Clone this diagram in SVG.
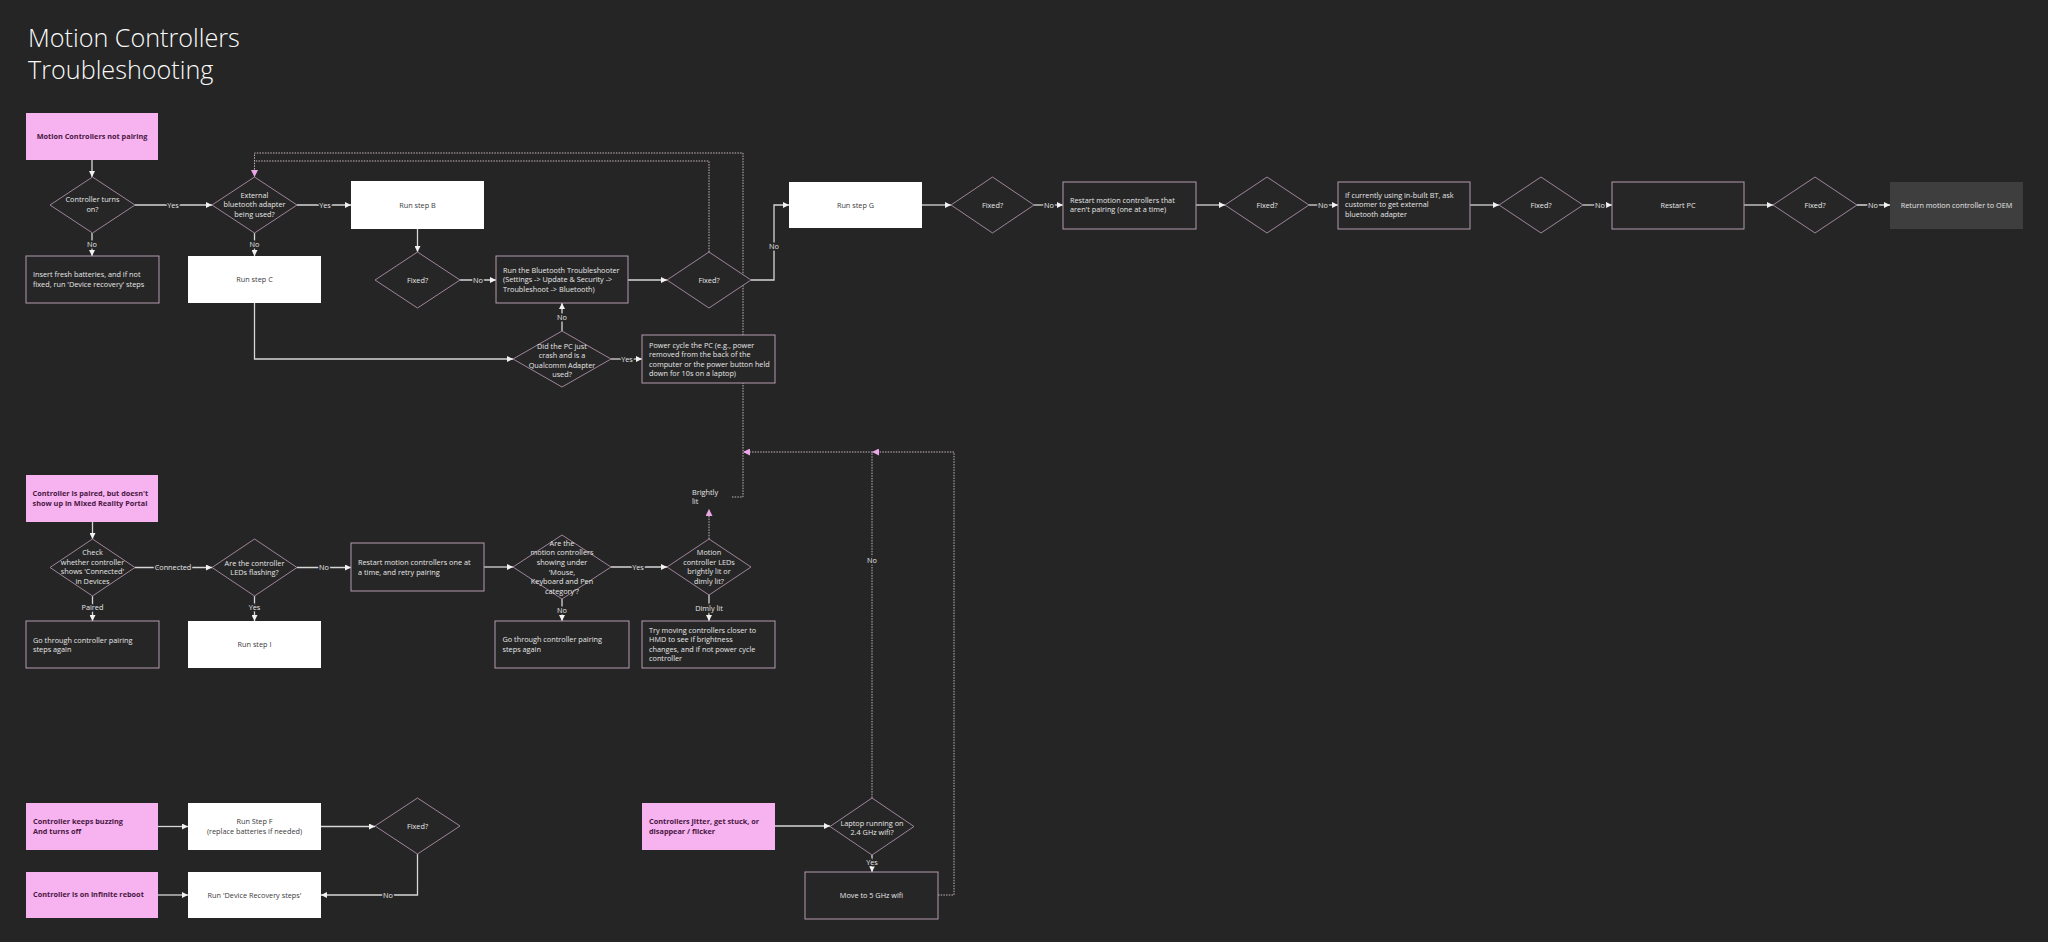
<svg xmlns="http://www.w3.org/2000/svg" width="2048" height="942" viewBox="0 0 2048 942">
<defs>
<style>
.bg{fill:#252525}
.t{font-family:"Segoe UI","Open Sans",sans-serif;font-size:7.3px;fill:#e6e6e6}
.m{text-anchor:middle}
.pk{font-weight:bold;fill:#4a1744}
.dk{fill:#3a3a3a}
.ttl{font-family:"Segoe UI","Open Sans",sans-serif;font-weight:300;font-size:25.2px;fill:#fafafa}
.pink{fill:#f7b3ef}
.wbox{fill:#ffffff}
.box{fill:#262626;stroke:#b49ab0;stroke-width:1}
.dia{fill:#262626;stroke:#9f849b;stroke-width:1}
.gray{fill:#3e3e3e}
.ln{fill:none;stroke:#d6d6d6;stroke-width:1.3;marker-end:url(#aw)}
.dt{fill:none;stroke:#c4b4c0;stroke-width:1;stroke-dasharray:1.5 1.2}
.dta{fill:none;stroke:#c4b4c0;stroke-width:1;stroke-dasharray:1.5 1.2;marker-end:url(#ap)}
.lb{font-family:"Segoe UI","Open Sans",sans-serif;font-size:7.3px;fill:#e6e6e6;text-anchor:middle;stroke:#252525;stroke-width:3;paint-order:stroke}
</style>
<marker id="aw" viewBox="0 0 10 10" refX="10" refY="5" markerWidth="6" markerHeight="6" orient="auto" markerUnits="userSpaceOnUse"><path d="M0,0 L10,5 L0,10 z" fill="#f2f2f2"/></marker>
<marker id="ap" viewBox="0 0 10 10" refX="10" refY="5" markerWidth="7" markerHeight="7" orient="auto" markerUnits="userSpaceOnUse"><path d="M0,0 L10,5 L0,10 z" fill="#eaa6e6"/></marker>
</defs>
<rect class="bg" x="0" y="0" width="2048" height="942"/>

<g id="title">
<text class="ttl" x="28" y="46.5">Motion Controllers</text>
<text class="ttl" x="28" y="78.5">Troubleshooting</text>
</g>

<g id="connectors">
<path class="ln" d="M92,160 V177"/>
<path class="ln" d="M135,205 H212"/>
<path class="ln" d="M297,205 H351"/>
<path class="ln" d="M92,233 V256"/>
<path class="ln" d="M254.5,233 V256"/>
<path class="ln" d="M417.5,229 V252"/>
<path class="ln" d="M460,280 H496"/>
<path class="ln" d="M628,280 H667"/>
<path class="ln" d="M751,280 H774 V205 H789"/>
<path class="ln" d="M254.5,303 V359 H513"/>
<path class="ln" d="M562,331 V303"/>
<path class="ln" d="M611,359 H642"/>
<path class="ln" d="M922,205 H951"/>
<path class="ln" d="M1034,205 H1063"/>
<path class="ln" d="M1196,205 H1225"/>
<path class="ln" d="M1309,205 H1338"/>
<path class="ln" d="M1470,205 H1499"/>
<path class="ln" d="M1583,205 H1612"/>
<path class="ln" d="M1744,205 H1773"/>
<path class="ln" d="M1857,205 H1890"/>

<path class="ln" d="M92.5,522 V539"/>
<path class="ln" d="M135,567.5 H212"/>
<path class="ln" d="M297,567.5 H351"/>
<path class="ln" d="M92.5,596 V621"/>
<path class="ln" d="M254.5,596 V621"/>
<path class="ln" d="M484,567 H513"/>
<path class="ln" d="M611,567 H667"/>
<path class="ln" d="M562,599 V621"/>
<path class="ln" d="M709,595 V621"/>

<path class="ln" d="M158,826.5 H188"/>
<path class="ln" d="M321,826.5 H375"/>
<path class="ln" d="M417.5,854 V895 H321"/>
<path class="ln" d="M158,895 H188"/>
<path class="ln" d="M775,826 H830"/>
<path class="ln" d="M872,855 V872"/>

<path class="dta" d="M709,539 V509"/>
<path class="dta" d="M732,497 H743 V153 H254.5 V177"/>
<path class="dt" d="M709,252 V161 H254.5"/>
<path class="dta" d="M872,798 V452 H743"/>
<path class="dta" d="M938,895 H954 V452 H872"/>

<text class="lb" x="173" y="207.5">Yes</text>
<text class="lb" x="325" y="207.5">Yes</text>
<text class="lb" x="92" y="246.5">No</text>
<text class="lb" x="254.5" y="246.5">No</text>
<text class="lb" x="478" y="282.5">No</text>
<text class="lb" x="774" y="248.5">No</text>
<text class="lb" x="562" y="319.5">No</text>
<text class="lb" x="627" y="361.5">Yes</text>
<text class="lb" x="1049" y="207.5">No</text>
<text class="lb" x="1323" y="207.5">No</text>
<text class="lb" x="1600" y="207.5">No</text>
<text class="lb" x="1873" y="207.5">No</text>
<text class="lb" x="173" y="570">Connected</text>
<text class="lb" x="324" y="570">No</text>
<text class="lb" x="92.5" y="610">Paired</text>
<text class="lb" x="254.5" y="610">Yes</text>
<text class="lb" x="638" y="569.5">Yes</text>
<text class="lb" x="562" y="612.5">No</text>
<text class="lb" x="709" y="610.5">Dimly lit</text>
<text class="lb" x="872" y="563">No</text>
<text class="lb" x="872" y="864.5">Yes</text>
<text class="lb" x="388" y="897.5">No</text>
<text class="t" x="692" y="494.5">Brightly</text>
<text class="t" x="692" y="504">lit</text>
</g>

<g id="n-start1">
<rect class="pink" x="26" y="113" width="132" height="47"/>
<text class="t m pk" x="92" y="139">Motion Controllers not pairing</text>
</g>
<g id="d-turns-on">
<polygon class="dia" points="92.5,177 135,205 92.5,233 50,205"/>
<text class="t m" x="92.5" y="201.5">Controller turns</text>
<text class="t m" x="92.5" y="211.5">on?</text>
</g>
<g id="d-external-bt">
<polygon class="dia" points="254.5,177 297,205 254.5,233 212,205"/>
<text class="t m" x="254.5" y="197.5">External</text>
<text class="t m" x="254.5" y="207">bluetooth adapter</text>
<text class="t m" x="254.5" y="216.5">being used?</text>
</g>
<g id="n-step-b">
<rect class="wbox" x="351" y="181" width="133" height="48"/>
<text class="t m dk" x="417.5" y="207.5">Run step B</text>
</g>
<g id="n-batteries">
<rect class="box" x="26" y="256" width="133" height="47"/>
<text class="t" x="33" y="277">Insert fresh batteries, and if not</text>
<text class="t" x="33" y="287">fixed, run 'Device recovery' steps</text>
</g>
<g id="n-step-c">
<rect class="wbox" x="188" y="256" width="133" height="47"/>
<text class="t m dk" x="254.5" y="282">Run step C</text>
</g>
<g id="d-fixed-b">
<polygon class="dia" points="417.5,252 460,280 417.5,308 375,280"/>
<text class="t m" x="417.5" y="282.5">Fixed?</text>
</g>
<g id="n-bt-troubleshooter">
<rect class="box" x="496" y="256" width="132" height="47"/>
<text class="t" x="503" y="272.5">Run the Bluetooth Troubleshooter</text>
<text class="t" x="503" y="282">(Settings -&gt; Update &amp; Security -&gt;</text>
<text class="t" x="503" y="291.5">Troubleshoot -&gt; Bluetooth)</text>
</g>
<g id="d-fixed-bt">
<polygon class="dia" points="709,252 751,280 709,308 667,280"/>
<text class="t m" x="709" y="282.5">Fixed?</text>
</g>
<g id="d-qualcomm">
<polygon class="dia" points="562,331 611,359 562,387 513,359"/>
<text class="t m" x="562" y="348.5">Did the PC just</text>
<text class="t m" x="562" y="357.5">crash and is a</text>
<text class="t m" x="562" y="367.5">Qualcomm Adapter</text>
<text class="t m" x="562" y="376.5">used?</text>
</g>
<g id="n-power-cycle">
<rect class="box" x="642" y="335" width="133" height="48"/>
<text class="t" x="649" y="347.5">Power cycle the PC (e.g., power</text>
<text class="t" x="649" y="357">removed from the back of the</text>
<text class="t" x="649" y="366.5">computer or the power button held</text>
<text class="t" x="649" y="376">down for 10s on a laptop)</text>
</g>
<g id="n-step-g">
<rect class="wbox" x="789" y="182" width="133" height="46"/>
<text class="t m dk" x="855.5" y="207.5">Run step G</text>
</g>
<g id="d-fixed-g">
<polygon class="dia" points="992.5,177 1034,205 992.5,233 951,205"/>
<text class="t m" x="992.5" y="207.5">Fixed?</text>
</g>
<g id="n-restart-ctrl">
<rect class="box" x="1063" y="182" width="133" height="47"/>
<text class="t" x="1070" y="202.5">Restart motion controllers that</text>
<text class="t" x="1070" y="211.5">aren't pairing (one at a time)</text>
</g>
<g id="d-fixed-restart">
<polygon class="dia" points="1267,177 1309,205 1267,233 1225,205"/>
<text class="t m" x="1267" y="207.5">Fixed?</text>
</g>
<g id="n-external-bt">
<rect class="box" x="1338" y="182" width="132" height="47"/>
<text class="t" x="1345" y="197.5">If currently using in-built BT, ask</text>
<text class="t" x="1345" y="207">customer to get external</text>
<text class="t" x="1345" y="216.5">bluetooth adapter</text>
</g>
<g id="d-fixed-ext">
<polygon class="dia" points="1541,177 1583,205 1541,233 1499,205"/>
<text class="t m" x="1541" y="207.5">Fixed?</text>
</g>
<g id="n-restart-pc">
<rect class="box" x="1612" y="182" width="132" height="47"/>
<text class="t m" x="1678" y="207.5">Restart PC</text>
</g>
<g id="d-fixed-pc">
<polygon class="dia" points="1815,177 1857,205 1815,233 1773,205"/>
<text class="t m" x="1815" y="207.5">Fixed?</text>
</g>
<g id="n-return-oem">
<rect class="gray" x="1890" y="182" width="133" height="47"/>
<text class="t m" x="1956.5" y="207.5">Return motion controller to OEM</text>
</g>

<g id="n-start2">
<rect class="pink" x="26" y="475" width="132" height="47"/>
<text class="t pk" x="32.5" y="496">Controller is paired, but doesn't</text>
<text class="t pk" x="32.5" y="505.5">show up in Mixed Reality Portal</text>
</g>
<g id="d-connected">
<polygon class="dia" points="92.5,539 135,567.5 92.5,596 50,567.5"/>
<text class="t m" x="92.5" y="555">Check</text>
<text class="t m" x="92.5" y="564.5">whether controller</text>
<text class="t m" x="92.5" y="574">shows 'Connected'</text>
<text class="t m" x="92.5" y="583.5">in Devices</text>
</g>
<g id="d-leds-flashing">
<polygon class="dia" points="254.5,539 297,567.5 254.5,596 212,567.5"/>
<text class="t m" x="254.5" y="565.5">Are the controller</text>
<text class="t m" x="254.5" y="575">LEDs flashing?</text>
</g>
<g id="n-restart-retry">
<rect class="box" x="351" y="543" width="133" height="48"/>
<text class="t" x="358" y="565">Restart motion controllers one at</text>
<text class="t" x="358" y="574.5">a time, and retry pairing</text>
</g>
<g id="n-pairing-again1">
<rect class="box" x="26" y="621" width="133" height="47"/>
<text class="t" x="33" y="642.5">Go through controller pairing</text>
<text class="t" x="33" y="652">steps again</text>
</g>
<g id="n-step-i">
<rect class="wbox" x="188" y="621" width="133" height="47"/>
<text class="t m dk" x="254.5" y="647">Run step I</text>
</g>
<g id="d-mouse-keyboard">
<polygon class="dia" points="562,535 611,567 562,599 513,567"/>
<text class="t m" x="562" y="545.5">Are the</text>
<text class="t m" x="562" y="555.3">motion controllers</text>
<text class="t m" x="562" y="565">showing under</text>
<text class="t m" x="562" y="574.7">'Mouse,</text>
<text class="t m" x="562" y="584.4">Keyboard and Pen</text>
<text class="t m" x="562" y="594">category'?</text>
</g>
<g id="d-leds-lit">
<polygon class="dia" points="709,539 751,567 709,595 667,567"/>
<text class="t m" x="709" y="555">Motion</text>
<text class="t m" x="709" y="564.7">controller LEDs</text>
<text class="t m" x="709" y="574.3">brightly lit or</text>
<text class="t m" x="709" y="583.5">dimly lit?</text>
</g>
<g id="n-pairing-again2">
<rect class="box" x="495" y="621" width="134" height="47"/>
<text class="t" x="502.5" y="642">Go through controller pairing</text>
<text class="t" x="502.5" y="651.5">steps again</text>
</g>
<g id="n-move-closer">
<rect class="box" x="642" y="621" width="133" height="47"/>
<text class="t" x="649" y="632.5">Try moving controllers closer to</text>
<text class="t" x="649" y="642">HMD to see if brightness</text>
<text class="t" x="649" y="651.5">changes, and if not power cycle</text>
<text class="t" x="649" y="661">controller</text>
</g>

<g id="n-start3">
<rect class="pink" x="26" y="803" width="132" height="47"/>
<text class="t pk" x="33" y="824">Controller keeps buzzing</text>
<text class="t pk" x="33" y="833.5">And turns off</text>
</g>
<g id="n-step-f">
<rect class="wbox" x="188" y="803" width="133" height="47"/>
<text class="t m dk" x="254.5" y="824">Run Step F</text>
<text class="t m dk" x="254.5" y="833.5">(replace batteries if needed)</text>
</g>
<g id="d-fixed-f">
<polygon class="dia" points="417.5,798 460,826 417.5,854 375,826"/>
<text class="t m" x="417.5" y="828.5">Fixed?</text>
</g>
<g id="n-start4">
<rect class="pink" x="26" y="872" width="132" height="46"/>
<text class="t pk" x="33" y="897">Controller is on infinite reboot</text>
</g>
<g id="n-device-recovery">
<rect class="wbox" x="188" y="872" width="133" height="46"/>
<text class="t m dk" x="254.5" y="897.5">Run 'Device Recovery steps'</text>
</g>
<g id="n-start5">
<rect class="pink" x="642" y="803" width="133" height="47"/>
<text class="t pk" x="649" y="824">Controllers jitter, get stuck, or</text>
<text class="t pk" x="649" y="833.5">disappear / flicker</text>
</g>
<g id="d-wifi">
<polygon class="dia" points="872,798 914,826.5 872,855 830,826.5"/>
<text class="t m" x="872" y="825.5">Laptop running on</text>
<text class="t m" x="872" y="835">2.4 GHz wifi?</text>
</g>
<g id="n-5ghz">
<rect class="box" x="805" y="872" width="133" height="47"/>
<text class="t m" x="871.5" y="897.5">Move to 5 GHz wifi</text>
</g>
</svg>
